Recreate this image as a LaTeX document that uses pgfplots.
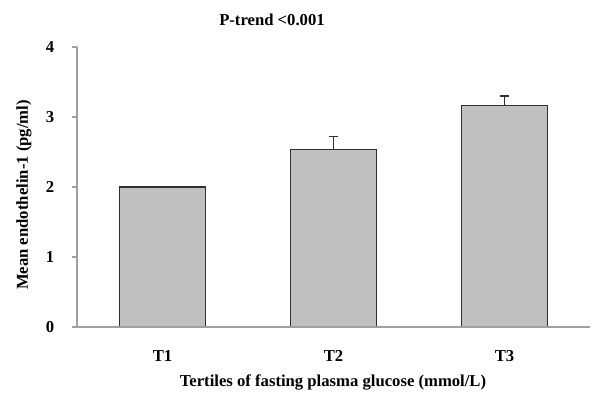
\documentclass[border=0pt]{standalone}
\usepackage{pgfplots}
\pgfplotsset{compat=1.18}
\usepackage{fontspec}
\setmainfont{Liberation Serif}
\definecolor{barfill}{HTML}{C0C0C0}
\definecolor{axgray}{HTML}{A0A0A0}
\definecolor{bardraw}{HTML}{303030}
\begin{document}
\begin{tikzpicture}[font=\bfseries\fontsize{12.5}{15}\selectfont]
\useasboundingbox (-57.75pt,-59.25pt) rectangle (392.25pt,245.25pt);
\begin{axis}[
  at={(0pt,0pt)}, anchor=south west,
  scale only axis, width=384.75pt, height=210pt,
  xmin=-0.5, xmax=2.5, ymin=0, ymax=4,
  axis x line=bottom, axis y line=left,
  axis line style={-, draw=axgray, line width=0.9pt},
  axis on top=true,
  xtick={0,1,2}, xticklabels={T1,T2,T3},
  x tick style={draw=none},
  ytick={0,1,2,3,4},
  tick align=outside, major tick length=4pt,
  y tick style={draw=axgray, line width=0.9pt},
  /pgf/number format/assume math mode=true,
  ticklabel style={font=\bfseries\fontsize{12.5}{15}\selectfont},
  xticklabel style={anchor=center, yshift=-17.5pt},
  yticklabel style={anchor=center, xshift=-16.25pt},
  clip=false,
]
\addplot[ybar, bar width=64.5pt, fill=barfill, draw=bardraw, line width=0.9pt,
  error bars/.cd, y dir=plus, y explicit,
  error bar style={line width=1pt, draw=bardraw},
  error mark options={rotate=90, line width=1pt, mark size=3.5pt, draw=bardraw}]
  table[x=x, y=y, y error=e] {
x y e
0 2.00 0.01
1 2.54 0.18
2 3.16 0.14
};
\end{axis}
\node at (146.25pt,230.25pt) {P-trend <0.001};
\node[rotate=90] at (-39.75pt,99pt) {Mean endothelin-1 (pg/ml)};
\node at (192pt,-41.25pt) {Tertiles of fasting plasma glucose (mmol/L)};
\end{tikzpicture}
\end{document}
